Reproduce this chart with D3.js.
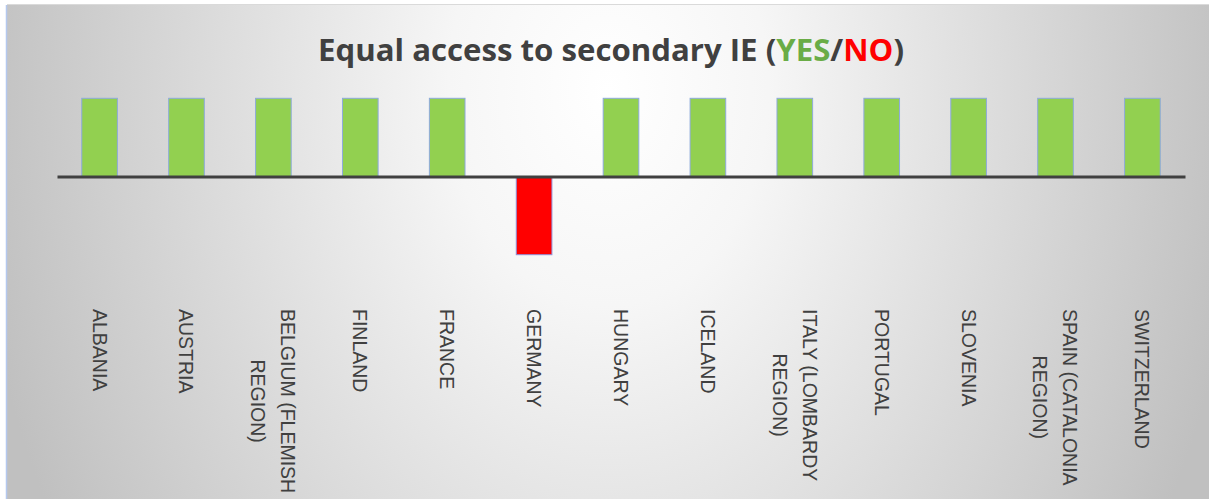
<!DOCTYPE html>
<html>
<head>
<meta charset="utf-8">
<script src="https://cdn.jsdelivr.net/npm/d3@7"></script>
<style>
  html, body { margin: 0; padding: 0; background: #ffffff; }
  svg { display: block; }
</style>
</head>
<body>
<svg id="chart" width="1209" height="499"></svg>
<script>
const categories = ["ALBANIA", "AUSTRIA", "BELGIUM (FLEMISH REGION)", "FINLAND", "FRANCE", "GERMANY",
  "HUNGARY", "ICELAND", "ITALY (LOMBARDY REGION)", "PORTUGAL", "SLOVENIA", "SPAIN (CATALONIA REGION)", "SWITZERLAND"];
const values = [1, 1, 1, 1, 1, -1, 1, 1, 1, 1, 1, 1, 1];
const titleParts = [
  { text: "Equal access to secondary IE (", color: "#404040" },
  { text: "YES", color: "#6aac46" },
  { text: "/", color: "#404040" },
  { text: "NO", color: "#ff0000" },
  { text: ")", color: "#404040" }
];

const W = 1209, H = 499;
const svg = d3.select("#chart");
const defs = svg.append("defs");
const grad = defs.append("radialGradient")
  .attr("id", "bg").attr("gradientUnits", "userSpaceOnUse")
  .attr("cx", 608).attr("cy", 90).attr("r", 640)
  .attr("gradientTransform", "translate(608,90) scale(1,1.35) translate(-608,-90)");
grad.append("stop").attr("offset", "0").attr("stop-color", "#ffffff");
grad.append("stop").attr("offset", "0.25").attr("stop-color", "#f6f6f6");
grad.append("stop").attr("offset", "1").attr("stop-color", "#c0c0c0");

// chart area background
svg.append("rect").attr("x", 7).attr("y", 5).attr("width", W - 7).attr("height", H - 5)
  .attr("fill", "url(#bg)");
svg.append("line").attr("x1", 7).attr("x2", W).attr("y1", 4.5).attr("y2", 4.5)
  .attr("stroke", "#dadada").attr("stroke-width", 1);
svg.append("line").attr("x1", 6.5).attr("x2", 6.5).attr("y1", 5).attr("y2", H)
  .attr("stroke", "#b4c8ee").attr("stroke-width", 1.5);

const x = d3.scaleBand().domain(categories).range([57, 1185])
  .paddingInner(0.59).paddingOuter(0.285);
const y = d3.scaleLinear().domain([-1, 1]).range([254.7, 98.3]);

// bars
svg.append("g").selectAll("rect").data(categories).join("rect")
  .attr("x", d => x(d))
  .attr("width", x.bandwidth())
  .attr("y", (d, i) => y(Math.max(0, values[i])))
  .attr("height", (d, i) => Math.abs(y(values[i]) - y(0)))
  .attr("fill", (d, i) => values[i] > 0 ? "#92d050" : "#ff0000")
  .attr("stroke", (d, i) => values[i] > 0 ? "#8eaadb" : "#8f8fd8")
  .attr("stroke-width", 1);

// axis line
const axis = d3.axisBottom(x).tickSize(0).tickFormat("");
const ag = svg.append("g").attr("transform", `translate(0,${y(0)})`).call(axis);
ag.select(".domain").attr("stroke", "#404040").attr("stroke-width", 3.2);

// labels (rotated 90deg, wrapped)
const fs = 19.5, lineGap = 30, labelTop = 309;
function wrap(s) {
  if (s.length > 12 && s.indexOf(" ") > -1) {
    const k = s.lastIndexOf(" ");
    return [s.slice(0, k), s.slice(k + 1)];
  }
  return [s];
}
const lg = svg.append("g");
categories.forEach((c, i) => {
  const lines = wrap(c);
  const cx = x(c) + x.bandwidth() / 2;
  const g = lg.append("g").attr("transform", `translate(${cx},${labelTop}) rotate(90)`);
  const texts = lines.map((ln, j) => {
    const off = ((lines.length - 1) / 2 - j) * lineGap; // screen x offset
    return g.append("text")
      .attr("font-family", "'Liberation Sans', Arial, sans-serif")
      .attr("font-size", fs).attr("fill", "#404040")
      .attr("y", -off + 0.36 * fs)
      .text(ln);
  });
  const widths = texts.map(t => t.node().getComputedTextLength());
  const maxW = d3.max(widths);
  texts.forEach((t, j) => t.attr("x", (maxW - widths[j]) / 2));
});

// title
const title = svg.append("text")
  .attr("x", 611).attr("y", 61)
  .attr("text-anchor", "middle")
  .attr("font-family", "'Open Sans', Lato, sans-serif")
  .attr("font-weight", "bold").attr("font-size", 31);
titleParts.forEach(p => title.append("tspan").attr("fill", p.color).text(p.text));
title.attr("textLength", 586).attr("lengthAdjust", "spacingAndGlyphs");
</script>
</body>
</html>
